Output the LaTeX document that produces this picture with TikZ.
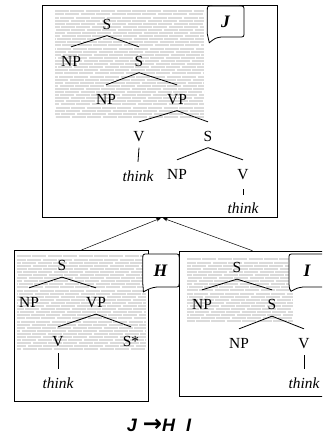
\documentclass[tikz,border=0pt]{standalone}
\usepackage{fontspec}
\setmainfont{Liberation Serif}
\newfontfamily\capfont{Liberation Sans}
\newfontfamily\arrowfont{DejaVu Sans}
\usetikzlibrary{arrows.meta}

% light ruled shading behind the upper part of a tree
\newcommand\hatchfill[5]{%
  \begin{scope}
    \clip (#1,#2) rectangle (#3,#4);
    \foreach \k in {0,...,#5} {
      \pgfmathsetmacro\yy{#2+1.4+3.1*\k}
      \pgfmathsetmacro\ph{mod(\k*5,15.6)}
      \draw[hatch, dash pattern=on 14pt off 1.4pt, dash phase=\ph pt] (#1,\yy) -- (#3,\yy);
    }
  \end{scope}}

% rounded speech bubble with a tail at its lower left corner
\newcommand\speechbubble[6]{%
  \draw[bubble] ({#1+5},#2) -- ({#3-5},#2) .. controls (#3,#2) .. (#3,{#2+5})
    -- (#3,{#4-5}) .. controls (#3,#4) .. ({#3-5},#4) -- ({#1+14},#4)
    .. controls ({#1+8},{#4+1}) .. (#5,#6)
    .. controls ({#1+0.5},{#4+2}) .. (#1,{#4-3})
    -- (#1,{#2+5}) .. controls (#1,#2) .. ({#1+5},#2) -- cycle;}

\begin{document}
\begin{tikzpicture}[x=1pt,y=-1pt,
  lab/.style={inner sep=0pt, text height=10.3pt, text depth=0pt,
    font=\fontsize{15.4}{18}\selectfont},
  tbox/.style={draw, line width=0.9pt, anchor=north west, inner sep=0pt},
  branch/.style={line width=0.8pt},
  tag/.style={inner sep=0pt, text height=11.7pt, text depth=0pt,
    font=\fontsize{17.5}{20}\selectfont\bfseries\itshape},
  bubble/.style={draw, fill=white, line width=0.8pt},
  link/.style={line width=0.5pt, -{Stealth[length=4.5pt,width=3.5pt]}},
  hatch/.style={line width=2pt, black!14},
  caption/.style={inner sep=0pt, text height=11.5pt, text depth=0pt,
    font=\fontsize{18}{20}\selectfont\capfont\bfseries\itshape}
]
\useasboundingbox (0,0) rectangle (322,436);
\begin{scope}
\clip (0,0) rectangle (322,436);

% frames of the three elementary trees
\node[tbox, minimum width=235pt, minimum height=212pt] (J) at (41.7,5.3) {};
\node[tbox, minimum width=134pt, minimum height=151pt] (H) at (14,250) {};
\node[tbox, minimum width=146pt, minimum height=145.5pt] (I) at (179,250.7) {};

% shaded regions
\hatchfill{55}{10}{204}{117}{35}
\hatchfill{17}{255}{146}{351}{31}
\hatchfill{187}{258}{293}{323}{21}

% tree J
\node[lab] (j1) at (107,24) {S};
\node[lab] (j2) at (71,61) {NP};
\node[lab] (j3) at (139,61) {S};
\node[lab] (j4) at (106,99) {NP};
\node[lab] (j5) at (177,99) {VP};
\node[lab] (j6) at (139,136) {V};
\node[lab] (j7) at (208,136) {S};
\node[lab] (j8) at (138,176) {\itshape think};
\node[lab] (j9) at (177,174) {NP};
\node[lab] (j10) at (243,174) {V};
\node[lab] (j11) at (243,208) {\itshape think};
\foreach \a/\b in {j1/j2,j1/j3,j3/j4,j3/j5,j5/j6,j5/j7,j6/j8,j7/j9,j7/j10}
  \draw[branch] ([yshift=-6.3pt]\a.south) -- ([yshift=8.8pt]\b.north);
\draw[branch] ([yshift=-9.8pt]j10.south) -- ([yshift=7.8pt]j11.north);

% tree H
\node[lab] (h1) at (62,265) {S};
\node[lab] (h2) at (29,302) {NP};
\node[lab] (h3) at (96,302) {VP};
\node[lab] (h4) at (58,341) {V};
\node[lab] (h5) at (131,341) {S*};
\node[lab] (h6) at (58,383) {\itshape think};
\foreach \a/\b in {h1/h2,h1/h3,h3/h4,h3/h5,h4/h6}
  \draw[branch] ([yshift=-6.8pt]\a.south) -- ([yshift=8.8pt]\b.north);

% tree I
\node[lab] (i1) at (237,267) {S};
\node[lab] (i2) at (202,304) {NP};
\node[lab] (i3) at (272,304) {S};
\node[lab] (i4) at (239,343) {NP};
\node[lab] (i5) at (304,343) {V};
\node[lab] (i6) at (304,383) {\itshape think};
\foreach \a/\b in {i1/i2,i1/i3,i3/i4,i3/i5,i5/i6}
  \draw[branch] ([yshift=-6.8pt]\a.south) -- ([yshift=8.8pt]\b.north);

% tree names in bubbles
\speechbubble{207.3}{6}{244}{37}{209.3}{42.7}
\node[tag] (jt) at (225.5,22) {J};
\speechbubble{142.8}{254}{179.2}{287}{143.4}{291.8}
\node[tag] (ht) at (160.5,271) {H};
\speechbubble{289}{254}{335}{287}{291}{291.3}
\node[tag] (it) at (307,271) {I};

% combination links
\draw[link] (H.north) -- ([xshift=1pt]J.south);
\draw[link] (I.north) -- ([xshift=3.5pt]J.south);

% caption
\node[caption] (cap) at (159,426)
  {J\hspace{6pt}{\arrowfont\fontsize{23}{23}\selectfont\bfseries\upshape →}H\hspace{11pt}I};
\end{scope}
\end{tikzpicture}
\end{document}
